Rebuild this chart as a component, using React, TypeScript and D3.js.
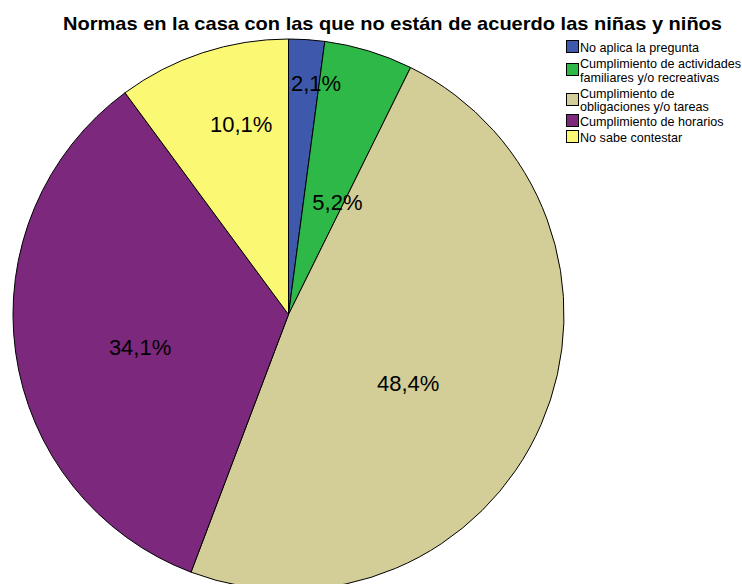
import React, { useEffect, useRef } from "react";
import * as d3 from "d3";

const title = "Normas en la casa con las que no están de acuerdo las niñas y niños";
const categories = [
  "No aplica la pregunta",
  "Cumplimiento de actividades familiares y/o recreativas",
  "Cumplimiento de obligaciones y/o tareas",
  "Cumplimiento de horarios",
  "No sabe contestar",
];
const legendLines = [
  ["No aplica la pregunta"],
  ["Cumplimiento de actividades", "familiares y/o recreativas"],
  ["Cumplimiento de", "obligaciones y/o tareas"],
  ["Cumplimiento de horarios"],
  ["No sabe contestar"],
];
const values = [2.1, 5.2, 48.4, 34.1, 10.1];
const colors = ["#3E58AC", "#2EB848", "#D3CE97", "#7C287D", "#FBF873"];

// label placement: [angle offset in degrees from slice middle, radius px]
const labelLayout = [
  [3, 233],
  [6.7, 122],
  [6.3, 138],
  [-4.6, 152],
  [4.2, 196],
];

const W = 742;
const H = 584;
const cx = 288.5;
const cy = 314.5;
const R = 275.5;
const FONT = "'Liberation Sans', Arial, Helvetica, sans-serif";

export default function App() {
  const ref = useRef<SVGSVGElement>(null);
  useEffect(() => {
    const svg = d3.select(ref.current);
    svg.selectAll("*").remove();

    const pie = d3.pie<number>().sort(null).value((d) => d);
    const arcs = pie(values);
    const arc = d3.arc<d3.PieArcDatum<number>>().innerRadius(0).outerRadius(R);

    const g = svg.append("g").attr("transform", `translate(${cx},${cy})`);
    g.selectAll("path.slice")
      .data(arcs)
      .enter()
      .append("path")
      .attr("class", "slice")
      .attr("d", arc)
      .attr("fill", (_, i) => colors[i])
      .attr("stroke", "#000")
      .attr("stroke-width", 1)
      .attr("stroke-linejoin", "round");

    g.selectAll("text.lbl")
      .data(arcs)
      .enter()
      .append("text")
      .attr("class", "lbl")
      .attr("x", (d, i) => {
        const a = (d.startAngle + d.endAngle) / 2 + (labelLayout[i][0] * Math.PI) / 180;
        return Math.sin(a) * labelLayout[i][1];
      })
      .attr("y", (d, i) => {
        const a = (d.startAngle + d.endAngle) / 2 + (labelLayout[i][0] * Math.PI) / 180;
        return -Math.cos(a) * labelLayout[i][1];
      })
      .attr("text-anchor", "middle")
      .attr("dominant-baseline", "central")
      .attr("font-family", FONT)
      .attr("font-size", 22)
      .attr("fill", "#000")
      .text((d) => d3.format(".1f")(d.data).replace(".", ",") + "%");

    svg
      .append("text")
      .attr("x", 63)
      .attr("y", 30)
      .attr("text-anchor", "start")
      .attr("font-family", FONT)
      .attr("font-weight", "bold")
      .attr("font-size", 19)
      .attr("textLength", 659)
      .attr("lengthAdjust", "spacingAndGlyphs")
      .attr("fill", "#000")
      .text(title);

    // legend
    const itemY = [47, 70, 100, 121, 137];
    const leg = svg.append("g");
    categories.forEach((c, i) => {
      const lines = legendLines[i];
      const yc = itemY[i];
      leg
        .append("rect")
        .attr("x", 566.5)
        .attr("y", yc - 6.5)
        .attr("width", 12)
        .attr("height", 12)
        .attr("fill", colors[i])
        .attr("stroke", "#000")
        .attr("stroke-width", 1);
      const t = leg
        .append("text")
        .attr("font-family", FONT)
        .attr("font-size", 12.6)
        .attr("fill", "#000");
      const offsets = lines.length === 1 ? [0] : i === 1 ? [-7, 7] : [-7, 6];
      lines.forEach((ln, j) => {
        t.append("tspan")
          .attr("x", 580)
          .attr("y", yc + offsets[j] + 4.5)
          .text(ln);
      });
    });
  }, []);

  return (
    <svg
      ref={ref}
      width={W}
      height={H}
      style={{ position: "absolute", left: 0, top: 0, background: "#fff" }}
    />
  );
}
